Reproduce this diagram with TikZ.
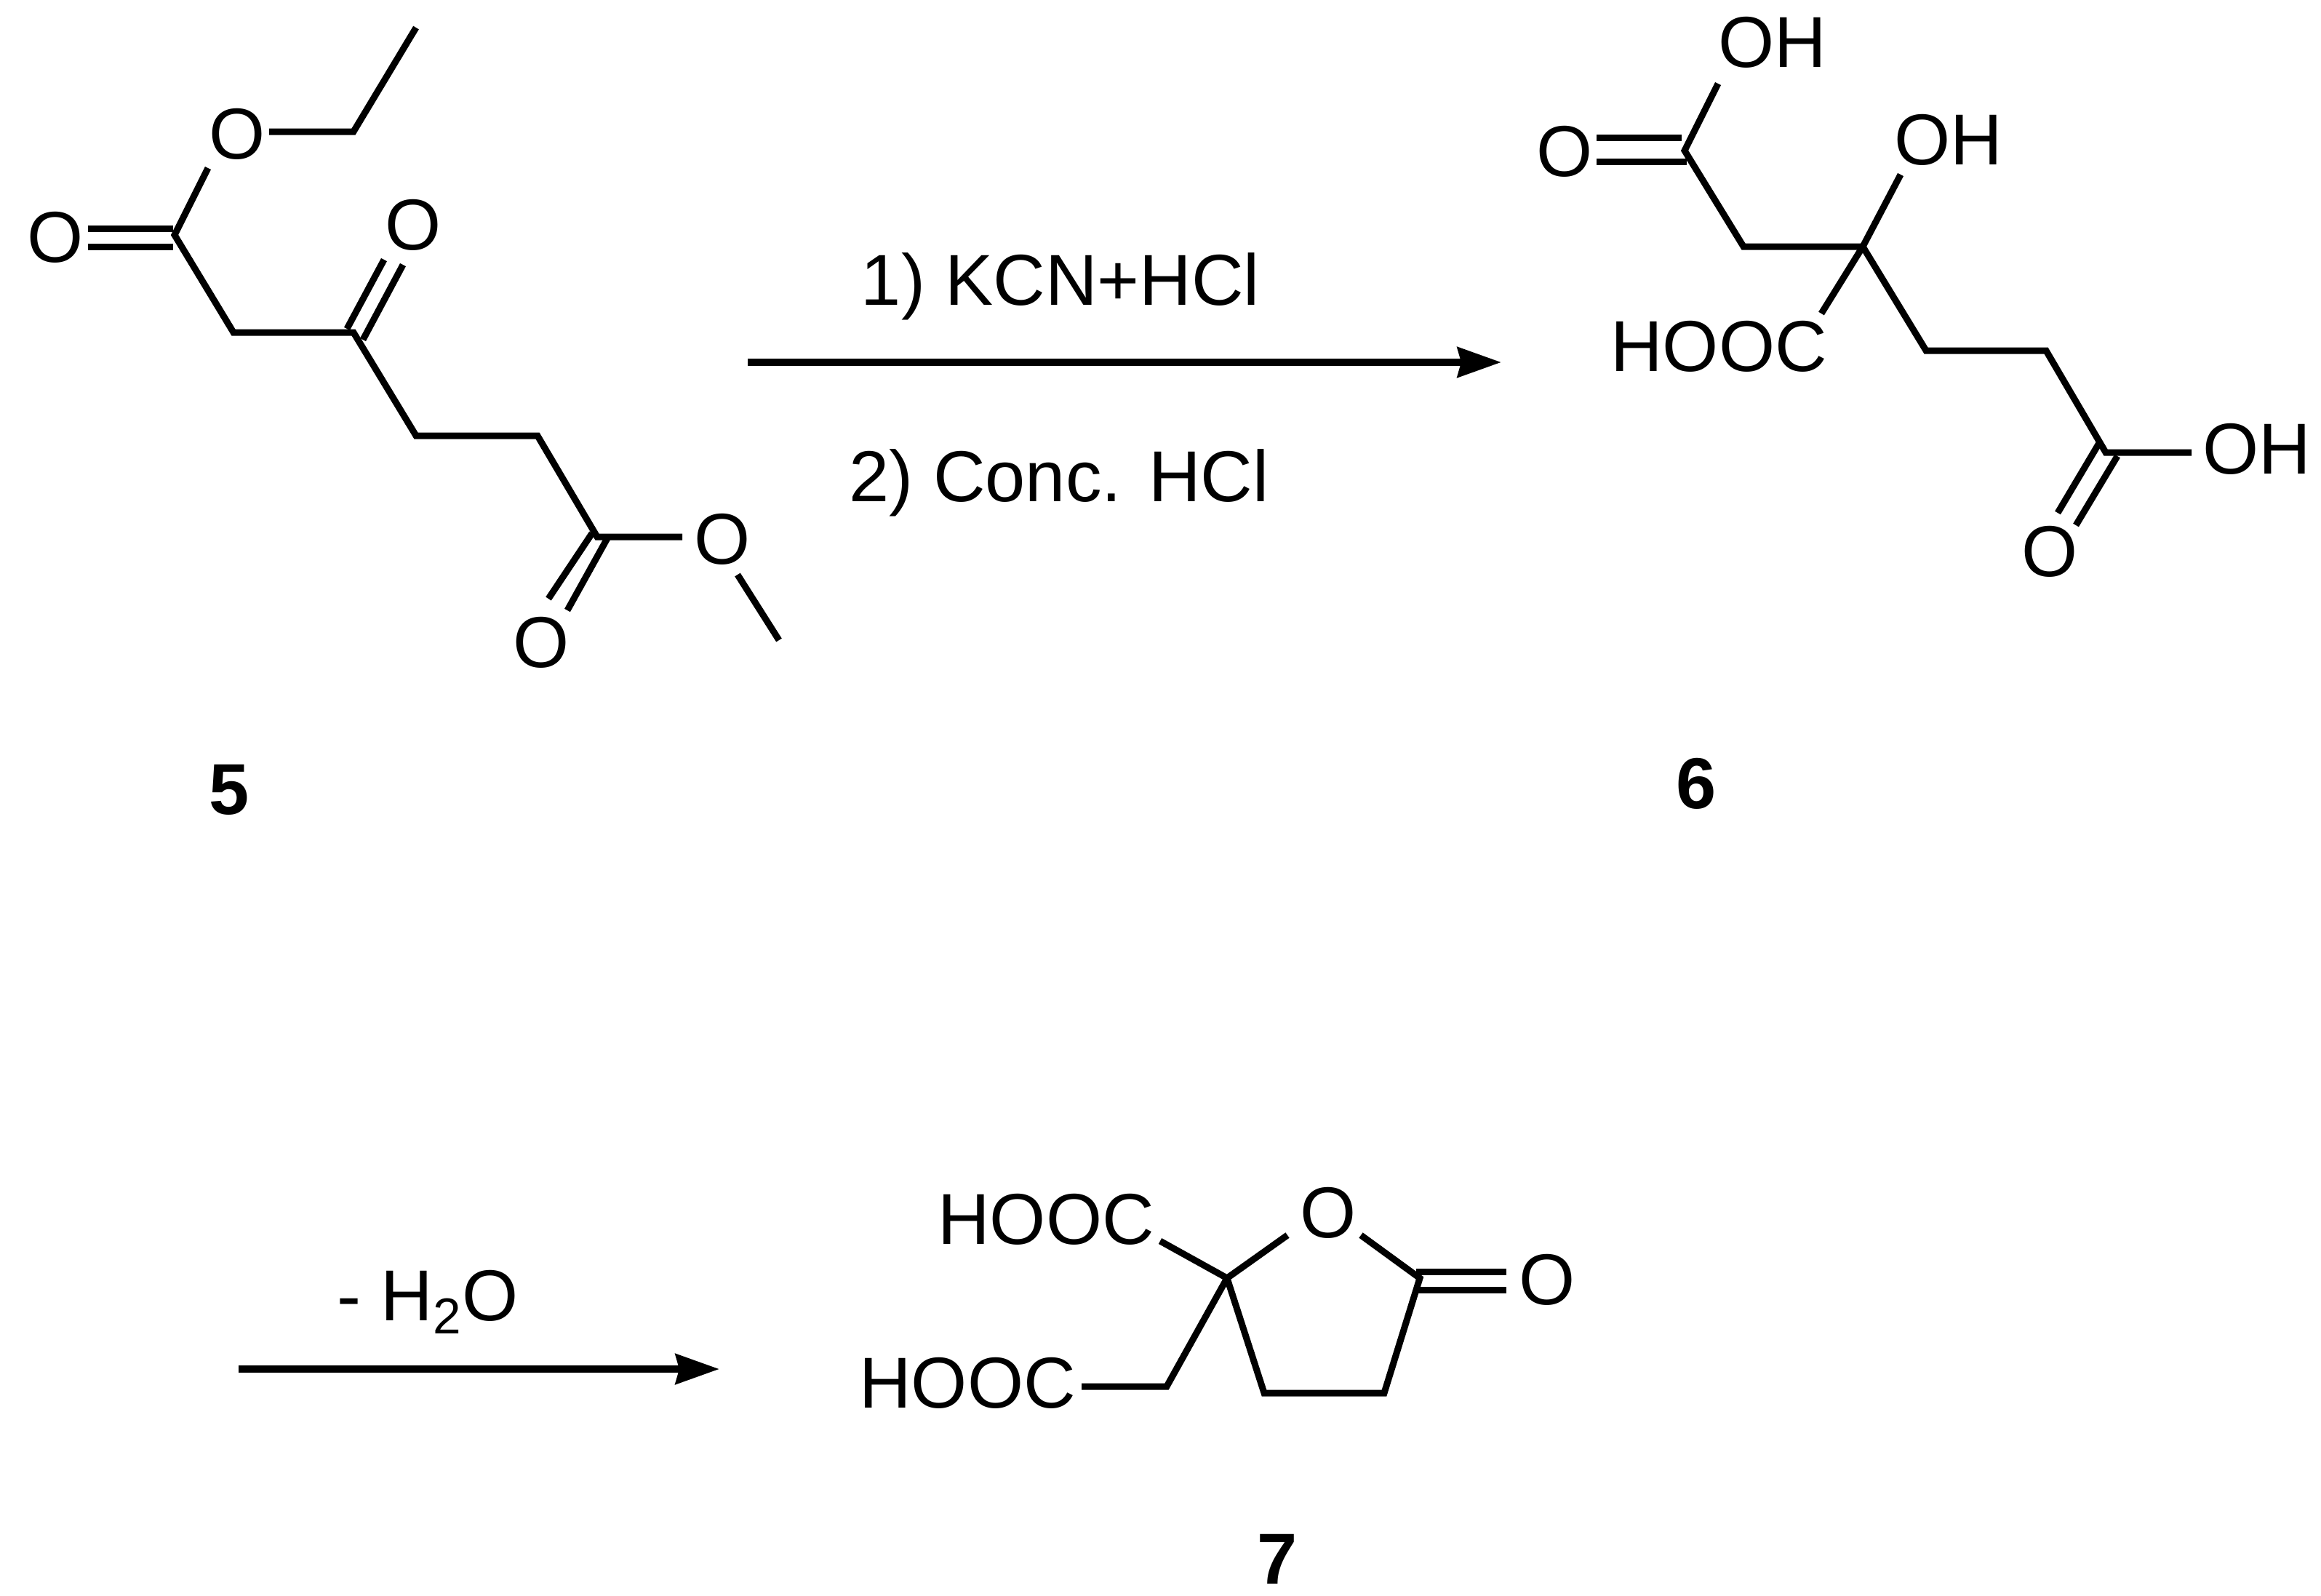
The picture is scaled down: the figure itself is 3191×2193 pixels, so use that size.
\documentclass[tikz,border=0pt]{standalone}
\usepackage{fontspec}
\setmainfont{Liberation Sans}
\usetikzlibrary{arrows.meta}
\tikzset{
    bond/.style={line width=0.09cm},
    rxnarrow/.style={line width=0.1cm,-{Stealth[length=0.6cm,width=0.41cm,inset=0.05cm]}},
    atom/.style={inner sep=0pt,text height=0.70cm,text depth=0pt,font=\fontsize{28.2pt}{30pt}\selectfont},
    cpd/.style={atom,font=\fontsize{28.2pt}{30pt}\selectfont\bfseries}
}

\begin{document}
\begin{tikzpicture}[x=0.01cm,y=-0.01cm]
    \useasboundingbox (0,0) rectangle (3191,2193);

    \node[atom] (oleft) at (76,325) {O};
    \node[atom] (oethyl) at (326,183) {O};
    \node[atom] (oketo) at (568,308) {O};
    \node[atom] (ocarb) at (744,882) {O};
    \node[atom] (omethyl) at (993,740) {O};
    \node[cpd] (five) at (315,1084) {5};
    \coordinate (ch3a) at (572,38);
    \coordinate (ch2a) at (486,181);
    \coordinate (c1) at (240,323);
    \coordinate (c2) at (321,457);
    \coordinate (c3) at (486,457);
    \coordinate (c4) at (572,599);
    \coordinate (c5) at (739,599);
    \coordinate (c6) at (821,738);
    \coordinate (ch3b) at (1071,880);
    \draw[bond] (ch3a) -- (ch2a) -- ([shift={(44,-2)}]oethyl.center);
    \draw[bond] ([shift={(-40,48)}]oethyl.center) -- (c1) -- (c2) -- (c3) -- (c4) -- (c5) -- (c6) -- ([shift={(-55,-2)}]omethyl.center);
    \draw[bond] ([shift={(21,50)}]omethyl.center) -- (ch3b);
    \draw[bond] ([shift={(45,-11)}]oleft.center) -- ([shift={(-2,-9)}]c1);
    \draw[bond] ([shift={(45,14)}]oleft.center) -- ([shift={(-2,16)}]c1);
    \draw[bond] ([shift={(-40,49)}]oketo.center) -- ([shift={(-9,-5)}]c3);
    \draw[bond] ([shift={(-14,56)}]oketo.center) -- ([shift={(13,10)}]c3);
    \draw[bond] ([shift={(10,-59)}]ocarb.center) -- ([shift={(-7,-5)}]c6);
    \draw[bond] ([shift={(36,-43)}]ocarb.center) -- ([shift={(14,2)}]c6);

    \coordinate (startA) at (1028,498);
    \coordinate (endA) at (2064,498);
    \draw[rxnarrow] (startA) -- (endA);
    \node[atom] (stepone) at (1458,384) {1) KCN+HCl};
    \node[atom] (steptwo) at (1456,654) {2) Conc. HCl};

    \node[atom] (acidtop) at (2437,57) {OH};
    \node[atom] (acido) at (2151,207) {O};
    \node[atom] (hydroxy) at (2679,191) {OH};
    \node[atom] (hoocmid) at (2363,475) {HOOC};
    \node[atom] (acidright) at (3103,616) {OH};
    \node[atom] (acidbot) at (2818,757) {O};
    \node[cpd] (six) at (2332,1076) {6};
    \coordinate (d1) at (2316,207);
    \coordinate (d2) at (2397,339);
    \coordinate (d3) at (2561,339);
    \coordinate (d4) at (2648,482);
    \coordinate (d5) at (2813,482);
    \coordinate (d6) at (2895,622);
    \draw[bond] ([shift={(-75,58)}]acidtop.center) -- (d1) -- (d2) -- (d3) -- (d4) -- (d5) -- (d6) -- ([shift={(-90,6)}]acidright.center);
    \draw[bond] ([shift={(-66,49)}]hydroxy.center) -- (d3) -- ([shift={(141,-44)}]hoocmid.center);
    \draw[bond] ([shift={(44,-18)}]acido.center) -- ([shift={(-4,-18)}]d1);
    \draw[bond] ([shift={(44,15)}]acido.center) -- ([shift={(3,15)}]d1);
    \draw[bond] ([shift={(11,-52)}]acidbot.center) -- ([shift={(-9,-13)}]d6);
    \draw[bond] ([shift={(36,-35)}]acidbot.center) -- ([shift={(16,5)}]d6);

    \coordinate (startB) at (328,1882);
    \coordinate (endB) at (989,1882);
    \draw[rxnarrow] (startB) -- (endB);
    \node[atom] (stepwater) at (588,1780) {- H\textsubscript{2}O};

    \node[atom] (hoocup) at (1438,1675) {HOOC};
    \node[atom] (hooclow) at (1330,1900) {HOOC};
    \node[atom] (oring) at (1826,1666) {O};
    \node[atom] (oexo) at (2127,1758) {O};
    \node[cpd] (seven) at (1756,2142) {7};
    \coordinate (e1) at (1687,1757);
    \coordinate (e2) at (1952,1757);
    \coordinate (e3) at (1903,1915);
    \coordinate (e4) at (1738,1915);
    \coordinate (e5) at (1604,1906);
    \draw[bond] ([shift={(-56,32)}]oring.center) -- (e1) -- (e4) -- (e3) -- (e2) -- ([shift={(45,32)}]oring.center);
    \draw[bond] ([shift={(157,31)}]hoocup.center) -- (e1) -- (e5) -- ([shift={(157,6)}]hooclow.center);
    \draw[bond] ([shift={(-56,-10)}]oexo.center) -- ([shift={(-5,-9)}]e2);
    \draw[bond] ([shift={(-56,15)}]oexo.center) -- ([shift={(-5,16)}]e2);
\end{tikzpicture}
\end{document}
